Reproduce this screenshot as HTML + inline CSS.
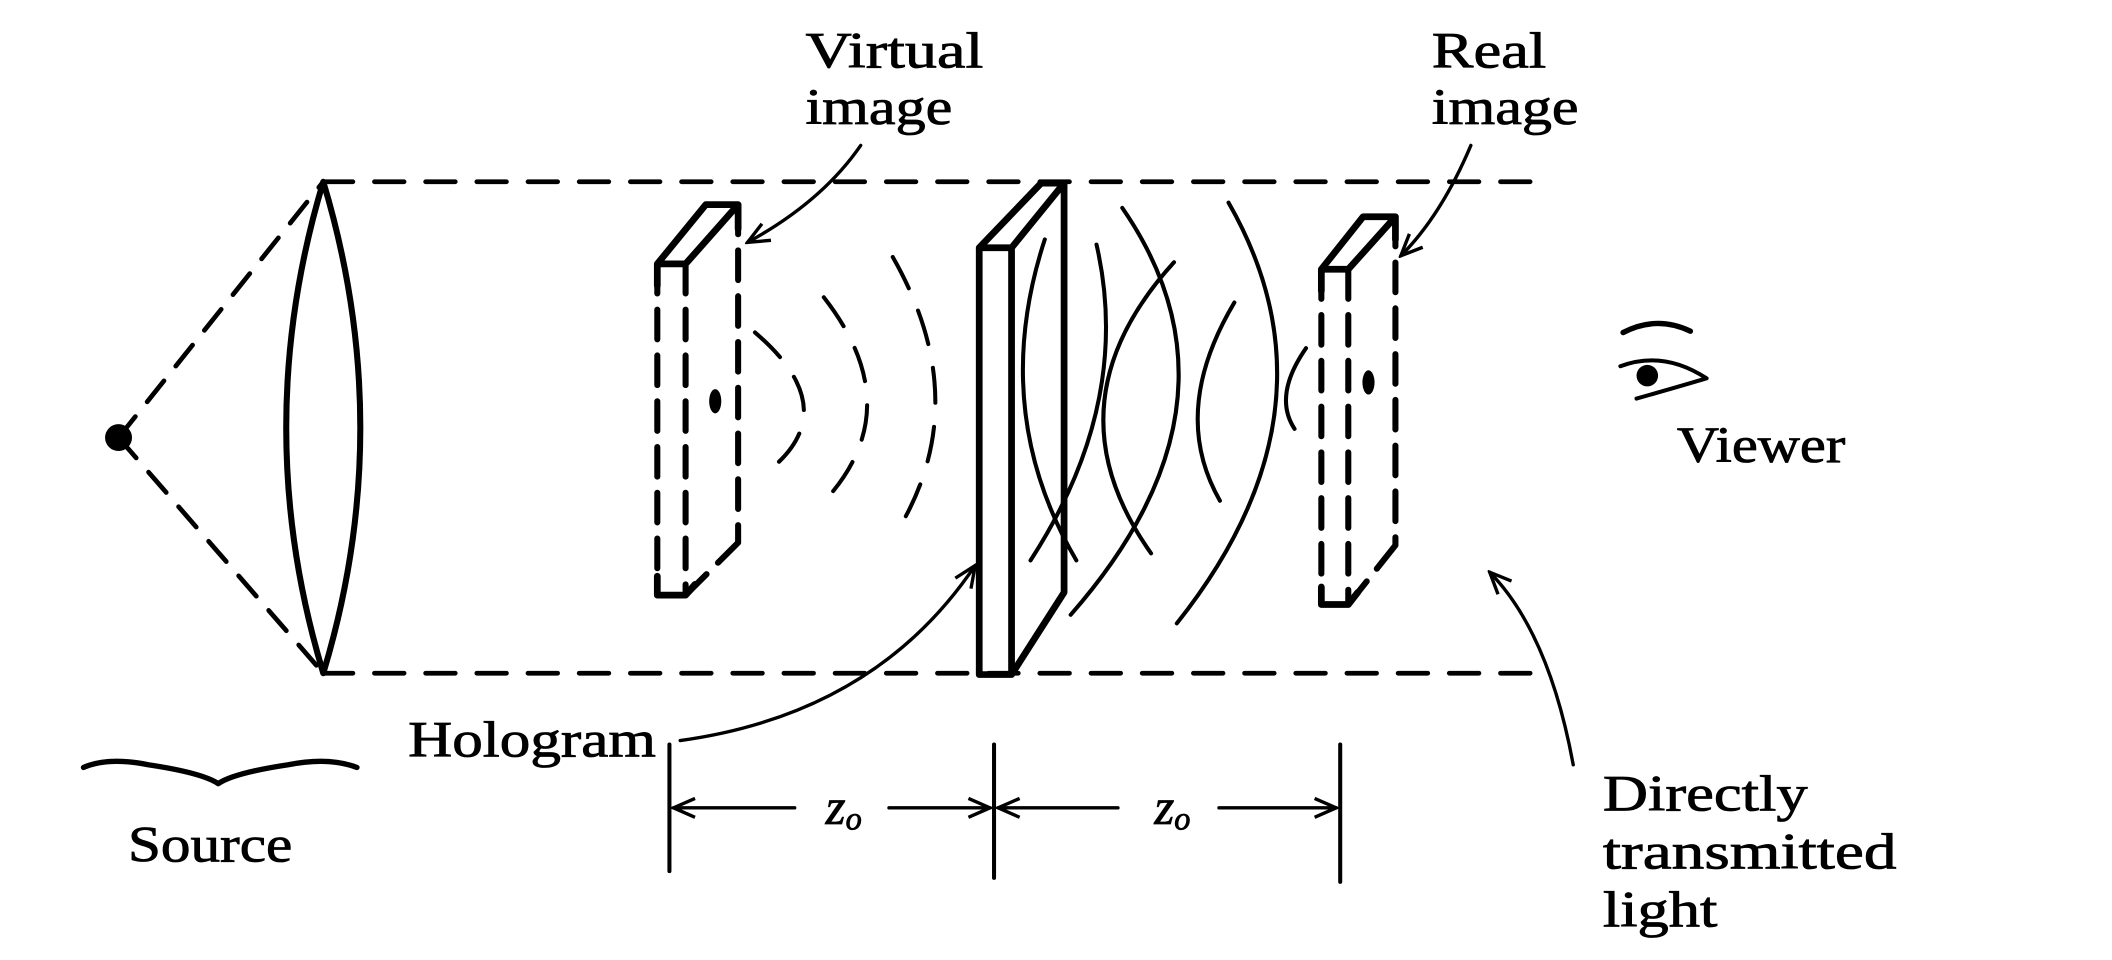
<!DOCTYPE html>
<html><head><meta charset="utf-8"><style>
html,body{margin:0;padding:0;background:#fff;}
svg{display:block;}
text{font-family:"Liberation Serif",serif;font-size:38px;fill:#000;stroke:#000;stroke-width:0.6;}
</style></head><body>
<svg width="2112" height="960" viewBox="0 0 1568 713" preserveAspectRatio="none" xmlns="http://www.w3.org/2000/svg">
<defs>
<marker id="ah" markerWidth="20" markerHeight="20" refX="18" refY="10" orient="auto" markerUnits="userSpaceOnUse">
<path d="M2,3 L18,10 L2,17" fill="none" stroke="#000" stroke-width="2.5"/>
</marker>
</defs>
<g fill="none" stroke="#000" stroke-linecap="round" stroke-linejoin="round">
<circle cx="88" cy="325" r="10" fill="#000" stroke="none"/>
<path d="M88,325 L240,135 M88,325 L240,500" stroke-width="3.5" stroke-dasharray="20,14"/>
<path d="M240,135 L1150,135 M240,500 L1150,500" stroke-width="3.5" stroke-dasharray="22,16"/>
<path d="M240,135 Q185,318 240,500 Q295,318 240,135 Z" stroke-width="4.5"/>
<path d="M488,212 L488,196 L524,152 L548,152 L548,170 M488,196 L509,196 L548,152 M488,428 L488,442 L509,442 L516,434" stroke-width="5"/>
<path d="M488,196 L488,442 M509,196 L509,442 M548,152 L548,403 M509,442 L548,403" stroke-width="4.5" stroke-dasharray="22,12"/>
<ellipse cx="531" cy="298" rx="4.5" ry="9" fill="#000" stroke="none"/>
<g stroke-width="3" stroke-dasharray="26,18">
<path d="M560.5,246.9 Q628.6,305 569,351"/>
<path d="M611.6,220.8 Q678,306 607.4,377.1"/>
<path d="M662.8,190.9 Q725,300 664.9,396.6"/>
</g>
<path d="M727,184 L773,136 L790,136 L790,440 L751,501 L727,501 Z M727,184 L751,184 L790,136 M751,184 L751,501" stroke-width="5"/>
<g stroke-width="3">
<path d="M775.7,177.8 Q734,305 799.1,416.2"/>
<path d="M871.6,194.8 Q776,300 854.6,411"/>
<path d="M916.4,224.7 Q868,306 905.7,371.9"/>
<path d="M969.6,258.6 Q945,294 961.1,318.5"/>
<path d="M814.1,181.7 Q841,299 765.1,416.2"/>
<path d="M833.2,154.4 Q933,299 794.9,456.6"/>
<path d="M912.1,150.5 Q1000,304 873.7,463"/>
</g>
<path d="M981,216 L981,200 L1012,161 L1036,161 L1036,178 M981,200 L1001,200 L1036,161 M981,436 L981,449 L1001,449 L1008,440" stroke-width="5"/>
<path d="M981,200 L981,449 M1001,200 L1001,449 M1036,161 L1036,405 M1001,449 L1036,405" stroke-width="4.5" stroke-dasharray="22,12"/>
<ellipse cx="1016" cy="284" rx="4.5" ry="9" fill="#000" stroke="none"/>
<path d="M639,108 Q610,150 555,180" stroke-width="2.5" marker-end="url(#ah)"/>
<path d="M1092,108 Q1070,160 1040,190" stroke-width="2.5" marker-end="url(#ah)"/>
<path d="M505,550 Q650,530 724,420" stroke-width="2.5" marker-end="url(#ah)"/>
<path d="M1168,568 Q1150,470 1106,425" stroke-width="2.5" marker-end="url(#ah)"/>
<path d="M1205,247 Q1230,234 1255,246" stroke-width="4"/>
<path d="M1203,272 Q1235,260 1267,281 Q1240,289 1215,296" stroke-width="3"/>
<circle cx="1223" cy="279" r="8" fill="#000" stroke="none"/>
<path d="M62,570 Q80,562 110,568 Q150,574 162,582 Q174,574 214,568 Q244,562 265,570" stroke-width="4"/>
<path d="M497,553 L497,647 M738,553 L738,652 M995,553 L995,655" stroke-width="3"/>
<path d="M590,600 L500,600" stroke-width="2.5" marker-end="url(#ah)"/>
<path d="M660,600 L735,600" stroke-width="2.5" marker-end="url(#ah)"/>
<path d="M830,600 L741,600" stroke-width="2.5" marker-end="url(#ah)"/>
<path d="M905,600 L992,600" stroke-width="2.5" marker-end="url(#ah)"/>
</g>
<text x="598" y="50" textLength="132" lengthAdjust="spacingAndGlyphs">Virtual</text>
<text x="598" y="92" textLength="109" lengthAdjust="spacingAndGlyphs">image</text>
<text x="1063" y="50" textLength="85" lengthAdjust="spacingAndGlyphs">Real</text>
<text x="1063" y="92" textLength="109" lengthAdjust="spacingAndGlyphs">image</text>
<text x="1245" y="343" textLength="125" lengthAdjust="spacingAndGlyphs">Viewer</text>
<text x="303" y="562" textLength="184" lengthAdjust="spacingAndGlyphs">Hologram</text>
<text x="95" y="640" textLength="122" lengthAdjust="spacingAndGlyphs">Source</text>
<text x="1190" y="602" textLength="152" lengthAdjust="spacingAndGlyphs">Directly</text>
<text x="1190" y="645" textLength="218" lengthAdjust="spacingAndGlyphs">transmitted</text>
<text x="1190" y="688" textLength="85" lengthAdjust="spacingAndGlyphs">light</text>
<text x="613" y="612" font-style="italic">z<tspan font-size="24" dy="4">o</tspan></text>
<text x="857" y="612" font-style="italic">z<tspan font-size="24" dy="4">o</tspan></text>
</svg>
</body></html>
